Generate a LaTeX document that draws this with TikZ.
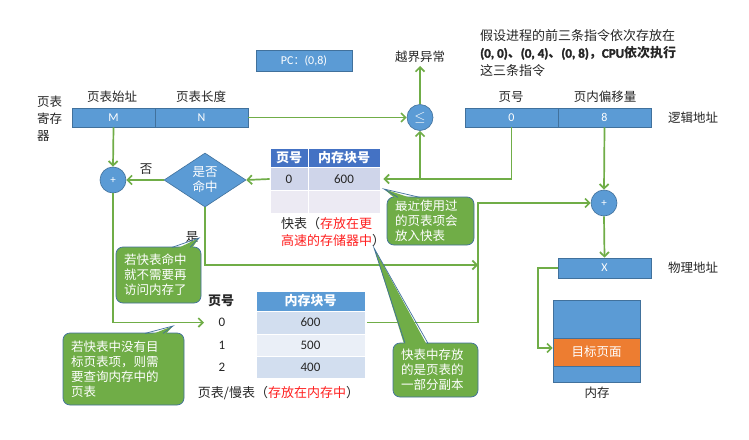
\documentclass[tikz,border=0pt]{standalone}
\usepackage{fontspec}
\setmainfont{Noto Sans CJK SC}
\newfontfamily\lat{Carlito}
\newfontfamily\latb{Carlito}[FakeBold=2]
\usetikzlibrary{shapes.geometric,arrows.meta}
\definecolor{bfill}{HTML}{5B9BD5}
\definecolor{bdraw}{HTML}{41719C}
\definecolor{gline}{HTML}{70AD47}
\definecolor{hdr}{HTML}{4472C4}
\definecolor{tra}{HTML}{CFD5EA}
\definecolor{trb}{HTML}{ECEAF3}
\definecolor{pra}{HTML}{D2DEEF}
\definecolor{prb}{HTML}{EAEFF7}
\definecolor{txt}{HTML}{262626}
\definecolor{org}{HTML}{ED7D31}
\definecolor{redt}{HTML}{FF2020}
\begin{document}
\begin{tikzpicture}[x=1pt,y=-1pt,
 font=\fontsize{12.5}{15}\selectfont,
 lbl/.style={text=txt, inner sep=0},
 bbox/.style={fill=bfill, draw=bdraw, line width=0.6pt, text=white, minimum height=19pt, inner sep=0, font=\lat\fontsize{12}{14}\selectfont},
 circ/.style={circle, fill=bfill, draw=bdraw, line width=0.6pt, minimum size=26pt, inner sep=0, text=white, font=\lat\fontsize{11}{12}\selectfont},
 arr/.style={draw=gline, line width=1.7pt, -{Straight Barb[length=4.5pt,width=9pt]}},
 cell/.style={inner sep=0, draw=white, line width=0.8pt, text=txt, font=\lat\fontsize{13}{14}\selectfont},
 note/.style={fill=gline, draw=bdraw, line width=0.7pt, rounded corners=7pt, text=white, align=left, inner xsep=8pt, inner ysep=0pt, font=\fontsize{12.5}{15}\selectfont},
 tailf/.style={fill=gline},
 taild/.style={draw=bdraw, line width=0.7pt}
]
\useasboundingbox[fill=white] (0,0) rectangle (749,439);

% page table register
\node[lbl, anchor=west, align=left, font=\fontsize{12.5}{17}\selectfont] (regl) at (37,119) {页表\\寄存\\器};
\node[lbl] (ls) at (112,97) {页表始址};
\node[lbl] (ll) at (201,97) {页表长度};
\node[bbox, minimum width=83pt] (Mb) at (113.5,117.5) {M};
\node[bbox, minimum width=93pt] (Nb) at (201.5,117.5) {N};

% PC
\node[bbox, minimum width=96pt, minimum height=21pt] (pc) at (304,60.5) {PC{\normalfont\fontsize{11}{13}\selectfont ：}(0,8)};

% bound check
\node[lbl, inner sep=3pt] (yj) at (420,57) {越界异常};
\node[circ] (le) at (420,117.5) {\fontsize{14}{14}\selectfont$\le$};

% text top right
\node[lbl, anchor=north west, align=left, font=\fontsize{13}{17.5}\selectfont] (desc) at (480,29)
 {假设进程的前三条指令依次存放在\\{\bfseries{\latb (0, 0)}、{\latb (0, 4)}、{\latb (0, 8)}，{\latb CPU}依次执行}\\这三条指令};

% logical address
\node[lbl] (lpn) at (511,97) {页号};
\node[lbl] (lof) at (605,97) {页内偏移量};
\node[bbox, minimum width=93pt] (pn) at (511.5,117.5) {0};
\node[bbox, minimum width=93pt] (of) at (604.5,117.5) {8};
\node[lbl, anchor=west] (la) at (668,118) {逻辑地址};

% physical address
\node[circ] (rp) at (604,203) {+};
\node[bbox, minimum width=93pt, minimum height=20pt] (Xb) at (604.5,268) {X};
\node[lbl, anchor=west] (pa) at (668,268) {物理地址};

% memory
\node[fill=bfill, draw=bdraw, line width=0.6pt, minimum width=87pt, minimum height=82pt, inner sep=0] (mem) at (596.5,341) {};
\node[fill=org, draw=bdraw, line width=0.6pt, minimum width=87pt, minimum height=28pt, inner sep=0, text=white] (tgt) at (596.5,352) {目标页面};
\node[lbl] (meml) at (597,393) {内存};

% TLB
\node[cell, fill=hdr, text=white, minimum width=38pt, minimum height=19pt, font=\fontsize{13}{15}\selectfont\bfseries] (th1) at (289,157.5) {页号};
\node[cell, fill=hdr, text=white, minimum width=72pt, minimum height=19pt, font=\fontsize{13}{15}\selectfont\bfseries] (th2) at (344,157.5) {内存块号};
\node[cell, fill=tra, minimum width=38pt, minimum height=23pt] (t11) at (289,179) {0};
\node[cell, fill=tra, minimum width=72pt, minimum height=23pt] (t12) at (344,179) {600};
\node[cell, fill=trb, minimum width=38pt, minimum height=23pt] (t21) at (289,202) {};
\node[cell, fill=trb, minimum width=72pt, minimum height=23pt] (t22) at (344,202) {};
\node[lbl, anchor=north west, align=left, font=\fontsize{13}{17}\selectfont] (tcap) at (281,217)
 {快表（\textcolor{redt}{存放在更}\\\textcolor{redt}{高速的存储器中}）};

% decision
\node[diamond, fill=bfill, draw=bdraw, line width=0.6pt, minimum width=82pt, minimum height=54pt, inner sep=0, text=white, align=center, font=\fontsize{12.5}{15}\selectfont] (dm) at (205,180) {是否\\命中};
\node[circ] (lp) at (113,180) {+};
\node[lbl] (no) at (146,169) {否};
\node[lbl] (yes) at (192,237) {是};

% page table (slow)
\node[lbl, font=\fontsize{13}{15}\selectfont\bfseries] (ph0) at (221,301) {页号};
\node[lbl, font=\lat\fontsize{13}{14}\selectfont] (pn0) at (222,322.5) {0};
\node[lbl, font=\lat\fontsize{13}{14}\selectfont] (pn1) at (222,345) {1};
\node[lbl, font=\lat\fontsize{13}{14}\selectfont] (pn2) at (222,367) {2};
\node[cell, fill=bfill, text=white, minimum width=109pt, minimum height=20pt, font=\fontsize{13}{15}\selectfont\bfseries] (ph) at (310.5,301) {内存块号};
\node[cell, fill=pra, minimum width=109pt, minimum height=23pt] (p1) at (310.5,322.5) {600};
\node[cell, fill=prb, minimum width=109pt, minimum height=22pt] (p2) at (310.5,345) {500};
\node[cell, fill=pra, minimum width=109pt, minimum height=22pt] (p3) at (310.5,367) {400};
\node[lbl, font=\fontsize{13}{15}\selectfont] (pcap) at (278.5,393) {页表/慢表（\textcolor{redt}{存放在内存中}）};

% junction coordinates
\coordinate (a7) at (204,322.5);
\coordinate (j8) at (478,265);
\coordinate (j9) at (478,322.5);
\coordinate (jm) at (538,268);

% connectors
\draw[arr] (Mb.south) -- (lp.north);
\draw[arr] (Nb.east) -- (le.west);
\draw[arr] (le.north) -- (yj.south);
\draw[arr] (pn.south) |- ([xshift=3pt]t12.east);
\draw[arr] (le |- t12.east) -- (le.south);
\draw[arr] (t11.west) -- (dm.east);
\draw[arr] (dm.west) -- (lp.east);
\draw[arr] (lp.south) |- (a7);
\draw[arr] (dm.south) |- (j8);
\draw[arr] ([xshift=2pt]p1.east) -- (j9) |- (rp.west);
\draw[arr] (of.south) -- (rp.north);
\draw[arr] (rp.south) -- (Xb.north);
\draw[arr] (Xb.west) -- (jm) |- ([yshift=4pt]tgt.west);

% callouts
\node[note, text width=71pt, minimum height=48pt] (ca) at (430.5,221) {最近使用过\\的页表项会\\放入快表};
\fill[tailf] (398,201) -- (384,189) -- (420,201) -- cycle;
\draw[taild] (398,197.4) -- (384,189) -- (420,197.4);

\node[note, text width=69pt, minimum height=56pt] (cb) at (158.5,275) {若快表命中\\就不需要再\\访问内存了};
\fill[tailf] (172,251) -- (199,238) -- (190,251) -- cycle;
\draw[taild] (172,247.4) -- (199,238) -- (190,247.4);

\node[note, text width=105pt, minimum height=72pt] (cc) at (123.5,369) {若快表中没有目\\标页表项，则需\\要查询内存中的\\页表};
\fill[tailf] (145,337) -- (173,326) -- (163,337) -- cycle;
\draw[taild] (145,333.4) -- (173,326) -- (163,333.4);

\node[note, text width=69pt, minimum height=54pt] (cd) at (435.5,370) {快表中存放\\的是页表的\\一部分副本};
\fill[tailf] (405,347) -- (374,248) -- (428,347) -- cycle;
\draw[taild] (405,343.4) -- (374,248) -- (428,343.4);
\end{tikzpicture}
\end{document}
